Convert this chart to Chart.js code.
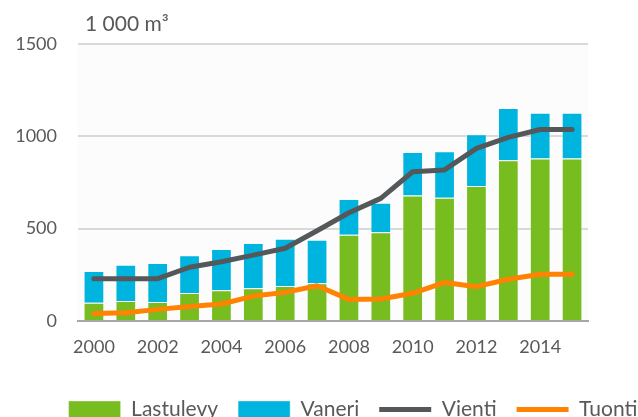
<!DOCTYPE html>
<html>
<head>
<meta charset="utf-8">
<script src="https://cdn.jsdelivr.net/npm/chart.js@4"></script>
<style>
  html, body { margin: 0; padding: 0; background: #ffffff; overflow: hidden; }
  #wrap { width: 638px; height: 417px; overflow: hidden; position: relative; }
  canvas { display: block; }
</style>
</head>
<body>
<div id="wrap"><canvas id="c" width="706" height="430"></canvas></div>
<script>
const categories = ['2000','2001','2002','2003','2004','2005','2006','2007','2008','2009','2010','2011','2012','2013','2014','2015'];
const lastulevy = [99,108,103,152,166,177,190,204,467,480,680,668,731,870,880,880];
const vaneri = [172,197,211,204,224,245,256,236,193,161,235,251,280,283,248,248];
const vienti = [229,229,229,291,321,357,394,489,586,664,808,818,935,994,1037,1037];
const tuonti = [41,45,63,78,92,135,155,191,117,119,150,209,186,226,253,253];
const yTicks = [0, 500, 1000, 1500];
const unitLabel = '1 000 m³';

const textColor = '#595959';
const FONT = 'Lato';
const CANVAS_W = 706;

const bgPlugin = {
  id: 'bg',
  beforeDraw(chart) {
    const {ctx, chartArea: a} = chart;
    ctx.save();
    ctx.fillStyle = '#ffffff';
    ctx.fillRect(0, 0, chart.width, chart.height);
    ctx.fillStyle = '#fcfcfc';
    ctx.fillRect(a.left, a.top, a.right - a.left, a.bottom - a.top);
    ctx.restore();
  }
};
const unitPlugin = {
  id: 'unit',
  afterDraw(chart) {
    const {ctx, chartArea: a} = chart;
    ctx.save();
    ctx.font = '21px ' + FONT;
    ctx.fillStyle = textColor;
    ctx.textBaseline = 'alphabetic';
    ctx.textAlign = 'left';
    ctx.fillText(unitLabel, a.left + 7, 31);
    ctx.restore();
  }
};

new Chart(document.getElementById('c'), {
  data: {
    labels: categories,
    datasets: [
      { type: 'bar', label: 'Lastulevy', data: lastulevy, backgroundColor: '#78bd20',
        borderColor: 'rgba(255,255,255,0.35)', borderWidth: 1, stack: 'bars', order: 2,
        categoryPercentage: 1, barPercentage: 0.65, pointStyle: 'rect' },
      { type: 'bar', label: 'Vaneri', data: vaneri, backgroundColor: '#00b4e0',
        borderColor: 'rgba(255,255,255,0.35)', borderWidth: 1, stack: 'bars', order: 2,
        categoryPercentage: 1, barPercentage: 0.65, pointStyle: 'rect' },
      { type: 'line', label: 'Vienti', data: vienti, borderColor: '#54585a', backgroundColor: '#54585a',
        borderWidth: 5, borderCapStyle: 'round', borderJoinStyle: 'round', pointRadius: 0,
        tension: 0, stack: 'v', order: 1, pointStyle: 'line' },
      { type: 'line', label: 'Tuonti', data: tuonti, borderColor: '#ff8200', backgroundColor: '#ff8200',
        borderWidth: 5, borderCapStyle: 'round', borderJoinStyle: 'round', pointRadius: 0,
        tension: 0, stack: 't', order: 0, pointStyle: 'line' }
    ]
  },
  options: {
    responsive: false,
    devicePixelRatio: 1,
    animation: false,
    layout: { padding: { top: 44, left: 0, right: 0, bottom: 0 } },
    plugins: {
      tooltip: { enabled: false },
      title: { display: false },
      legend: {
        position: 'bottom',
        align: 'center',
        labels: {
          usePointStyle: true,
          pointStyleWidth: 52,
          boxHeight: 17,
          padding: 20,
          color: textColor,
          font: { family: FONT, size: 21 },
          sort: (a, b) => a.datasetIndex - b.datasetIndex
        }
      }
    },
    scales: {
      x: {
        stacked: true,
        offset: true,
        grid: { display: false, drawTicks: false },
        border: { display: true, color: '#a6a6a6', width: 2 },
        ticks: {
          autoSkip: false, maxRotation: 0, padding: 15,
          color: textColor, font: { family: FONT, size: 18 },
          callback: function(v, i) { return i % 2 === 0 ? categories[i] : ''; }
        },
        afterFit(s) { s.height = 58; }
      },
      y: {
        stacked: true,
        min: 0, max: 1500,
        afterBuildTicks(s) { s.ticks = yTicks.map(v => ({ value: v })); },
        grid: { color: '#d9d9d9', lineWidth: 2, drawTicks: false },
        border: { display: false },
        ticks: {
          padding: 21, color: textColor, font: { family: FONT, size: 18 },
          callback: v => String(v)
        },
        afterFit(s) { s.width = 78; }
      },
      yR: {
        position: 'right',
        display: true,
        grid: { display: false, drawTicks: false },
        border: { display: false },
        ticks: { display: false },
        afterFit(s) { s.width = CANVAS_W - 588; }
      }
    }
  },
  plugins: [bgPlugin, unitPlugin]
});
</script>
</body>
</html>
